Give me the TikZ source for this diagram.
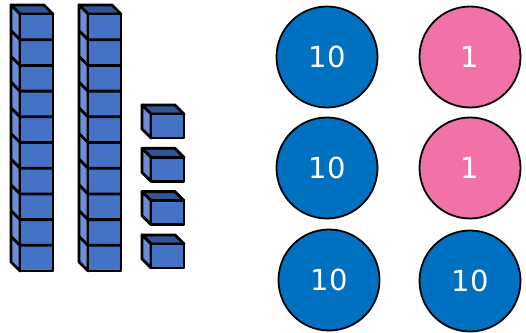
\documentclass[tikz,border=0pt]{standalone}
\usepackage{fontspec}
\newfontfamily\numfont{DejaVu Sans}
\usepackage{tikz}
\usetikzlibrary{calc}
\definecolor{cubefront}{HTML}{4472C4}
\definecolor{cubeside}{HTML}{6A8FD6}
\definecolor{cubetop}{HTML}{2F5597}
\definecolor{tenblue}{HTML}{0070C0}
\definecolor{onepink}{HTML}{F072A8}

\begin{document}
\begin{tikzpicture}[x=1pt,y=-1pt,
		cubeline/.style={draw=black,line width=2.8pt,line join=round},
		tennode/.style={circle,draw,line width=1.8pt,fill=tenblue,minimum size=101pt,inner sep=0pt,text=white,font=\numfont\fontsize{29}{29}\selectfont},
		onenode/.style={tennode,fill=onepink}
		]
		\useasboundingbox (0,0) rectangle (526,332);
		% rods of ten
		\foreach \rx in {20,88}{
			\path[cubeline,fill=cubetop] (\rx,14) -- ++(-9,-9) -- ++(33,0) -- ++(9,9) -- cycle;
			\path[cubeline,fill=cubeside] (\rx,14) -- ++(-9,-9) -- ++(0,257) -- ++(9,9) -- cycle;
			\path[cubeline,fill=cubefront] (\rx,14) rectangle ++(33,257);
			\foreach \k in {1,...,9}
				\draw[cubeline] (\rx-9,14+\k*25.7-9) -- ++(9,9) -- ++(33,0);
		}
		% single cubes
		\foreach \k in {0,...,3}{
			\pgfmathsetmacro\cy{114+43.3*\k}
			\path[cubeline,fill=cubetop] (151,\cy) -- ++(-9,-9) -- ++(33,0) -- ++(9,9) -- cycle;
			\path[cubeline,fill=cubeside] (151,\cy) -- ++(-9,-9) -- ++(0,24) -- ++(9,9) -- cycle;
			\path[cubeline,fill=cubefront] (151,\cy) rectangle ++(33,24);
		}
		% counters
		\node (t1) [tennode] at (327,57) {10};
		\node (o1) [onenode] at (470,57) {1};
		\node (t2) [tennode] at (327,168) {10};
		\node (o2) [onenode] at (470,168) {1};
		\node (t3) [tennode] at (329,280) {10};
		\node (t4) [tennode] at (470,281) {10};
\end{tikzpicture}
\end{document}
